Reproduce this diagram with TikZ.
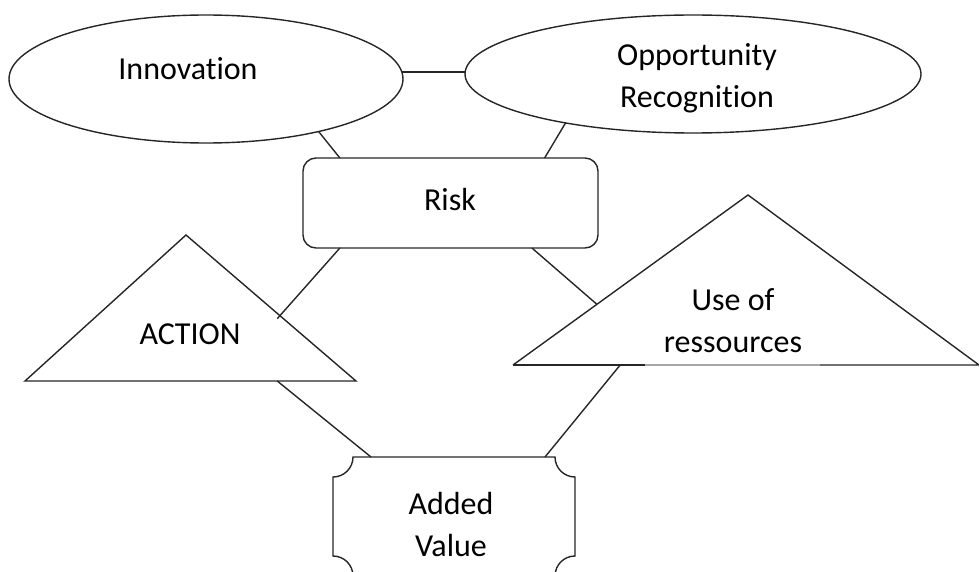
\documentclass[tikz,border=0pt]{standalone}
\usepackage{fontspec}
\setmainfont[Ligatures={NoCommon,NoDiscretionary,NoContextual}]{Carlito}
\usetikzlibrary{shapes.geometric,calc}
\begin{document}
\begin{tikzpicture}[x=1pt,y=-1pt,line width=1.4pt,line join=miter,
  outline/.style={draw=black!85,line width=1.4pt},
  conn/.style={draw=black!85,line width=1.4pt},
  txt/.style={font=\fontsize{32}{42}\selectfont,align=center,inner sep=0pt,anchor=north},
  blank/.style={inner sep=0pt,outer sep=0pt}]
\useasboundingbox (0,0) rectangle (979,572);

% ellipses
\node[outline,ellipse,blank,minimum width=394pt,minimum height=128pt] (inn) at (206,79) {};
\node[outline,ellipse,blank,minimum width=456pt,minimum height=118pt] (opp) at (693,74) {};
% risk box
\node[outline,rounded corners=13pt,blank,minimum width=295pt,minimum height=90pt] (risk) at (450.5,203) {};

% ACTION triangle
\coordinate (aA) at (186,235);
\coordinate (aL) at (25,381);
\coordinate (aR) at (356,381);
\draw[outline] (aA) -- (aR) -- (aL) -- cycle;

% Use of ressources triangle
\coordinate (uA) at (748,195);
\coordinate (uL) at (513,365);
\coordinate (uR) at (979,365);
\draw[outline] (uL) -- (uA) -- (uR) -- ($(uL)!0.658!(uR)$);
\draw[draw=black!35,line width=1.4pt] ($(uL)!0.658!(uR)$) -- ($(uL)!0.283!(uR)$);
\draw[outline] ($(uL)!0.283!(uR)$) -- (uL);

% Added Value plaque
\node[blank,minimum width=242pt,minimum height=119pt] (av) at (454,516.5) {};
\draw[outline]
  ($(av.north west)+(20,0)$) -- ($(av.north east)+(-20,0)$)
  arc[start angle=180,end angle=270,radius=20pt]
  -- ($(av.south east)+(0,-20)$)
  arc[start angle=90,end angle=180,radius=20pt]
  -- ($(av.south west)+(20,0)$)
  arc[start angle=0,end angle=90,radius=20pt]
  -- ($(av.north west)+(0,20)$)
  arc[start angle=270,end angle=360,radius=20pt] -- cycle;

% texts
\node[txt] (tinn) at (188,57) {Innovation};
\node[txt] (topp) at (697,43) {Opportunity\\Recognition};
\node[txt] (trisk) at (450,188) {Risk};
\node[txt] (tact) at (190,323) {ACTION};
\node[txt] (tuse) at (733,288) {Use of\\ressources};
\node[txt] (tav) at (451,492) {Added\\Value};

% connectors
\draw[conn] (inn.2.3) -- (inn.2.3 -| opp.west);
\draw[conn] (inn.-25.3) -- ($(risk.north west)!0.125!(risk.north east)$);
\draw[conn] (opp.201.7) -- ($(risk.north west)!0.819!(risk.north east)$);
\draw[conn,shorten >=-4pt] ($(risk.south west)!0.125!(risk.south east)$) -- ($(aA)!0.5525!(aR)$);
\draw[conn] ($(risk.south west)!0.776!(risk.south east)$) -- ($(uA)!0.643!(uL)$);
\draw[conn] ($(aL)!0.762!(aR)$) -- ($(av.north west)!0.157!(av.north east)$);
\draw[conn] ($(uL)!0.23!(uR)$) -- ($(av.north west)!0.876!(av.north east)$);
\end{tikzpicture}
\end{document}
